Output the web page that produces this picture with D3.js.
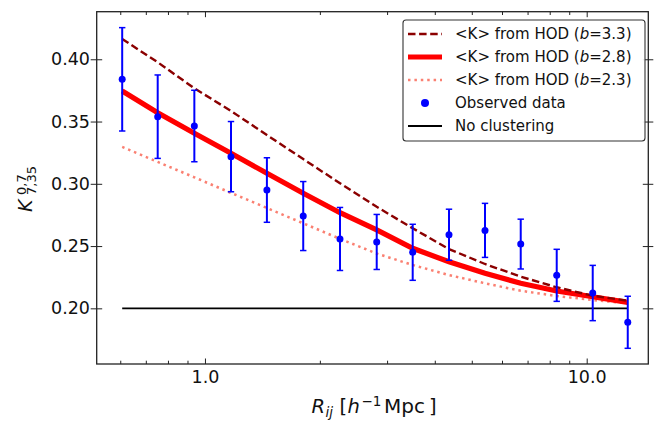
<!DOCTYPE html>
<html><head><meta charset="utf-8">
<script src="https://cdn.jsdelivr.net/npm/d3@7"></script>
<style>
html,body{margin:0;padding:0;background:#fff;}
svg{display:block;font-family:"DejaVu Sans",sans-serif;}
</style></head>
<body><svg id="chart" width="655" height="421"></svg>
<script>
// ---- data ----
const radii = [0.607,0.752,0.938,1.170,1.453,1.809,2.258,2.818,3.501,4.358,5.415,6.717,8.346,10.37,12.81];
const observed = [0.3839,0.3539,0.3464,0.3218,0.2950,0.2741,0.2557,0.2533,0.2450,0.2591,0.2626,0.2516,0.2265,0.2123,0.1888];
const observedErr = [0.0415,0.0335,0.0287,0.0282,0.0259,0.0277,0.0253,0.0221,0.0225,0.0205,0.0217,0.0200,0.0209,0.0222,0.0209];
const hodB33 = [0.4163,0.3976,0.3767,0.3585,0.3392,0.3199,0.3004,0.2815,0.2643,0.2476,0.2356,0.2254,0.2169,0.2101,0.2061];
const hodB28 = [0.3745,0.3570,0.3406,0.3245,0.3084,0.2924,0.2768,0.2630,0.2482,0.2374,0.2281,0.2201,0.2139,0.2093,0.2048];
const hodB23 = [0.3296,0.3176,0.3052,0.2927,0.2806,0.2683,0.2558,0.2440,0.2348,0.2267,0.2201,0.2141,0.2099,0.2067,0.2040];
const noClustering = 0.2;
const xMajorTicks = [1, 10];
const xMajorLabels = ["1.0", "10.0"];
const xMinorTicks = [0.6,0.7,0.8,0.9,2,3,4,5,6,7,8,9];
const yTicks = [0.20,0.25,0.30,0.35,0.40];
const yTickLabels = ["0.20","0.25","0.30","0.35","0.40"];
const bValues = ["3.3","2.8","2.3"];

// ---- layout ----
const L = 96.7, R = 648.3, T = 11.7, B = 364;
const svg = d3.select("#chart");
svg.append("rect").attr("width",655).attr("height",421).attr("fill","#fff");

const x = d3.scaleLog().domain([0.5205, 14.50]).range([L, R]);
const y = d3.scaleLinear().domain([0.1553, 0.4382]).range([B, T]);

const tickColor = "#222";
function styleAxis(g){ g.select(".domain").remove(); g.selectAll("line").attr("stroke",tickColor).attr("stroke-width",1); g.selectAll("text").attr("font-family","DejaVu Sans").attr("font-size",17.5).attr("fill","#111"); }

// bottom
svg.append("g").attr("transform",`translate(0,${B})`)
  .call(d3.axisBottom(x).tickValues(xMajorTicks).tickFormat((d,i)=>xMajorLabels[i]).tickSizeInner(-5.5).tickSizeOuter(0).tickPadding(6.6))
  .call(styleAxis);
svg.append("g").attr("transform",`translate(0,${B})`)
  .call(d3.axisBottom(x).tickValues(xMinorTicks).tickFormat("").tickSizeInner(-3.3).tickSizeOuter(0))
  .call(styleAxis);
// top
svg.append("g").attr("transform",`translate(0,${T})`)
  .call(d3.axisTop(x).tickValues(xMajorTicks).tickFormat("").tickSizeInner(-5.5).tickSizeOuter(0))
  .call(styleAxis);
svg.append("g").attr("transform",`translate(0,${T})`)
  .call(d3.axisTop(x).tickValues(xMinorTicks).tickFormat("").tickSizeInner(-3.3).tickSizeOuter(0))
  .call(styleAxis);
// left (in-out)
const gl = svg.append("g").attr("transform",`translate(${L},0)`)
  .call(d3.axisLeft(y).tickValues(yTicks).tickFormat((d,i)=>yTickLabels[i]).tickSizeInner(-5.5).tickSizeOuter(0).tickPadding(6.7))
  .call(styleAxis);
gl.selectAll(".tick line").attr("x1",-6);
// right (in-out)
const gr = svg.append("g").attr("transform",`translate(${R},0)`)
  .call(d3.axisRight(y).tickValues(yTicks).tickFormat("").tickSizeInner(-5.5).tickSizeOuter(0))
  .call(styleAxis);
gr.selectAll(".tick line").attr("x1",5);

// ---- data marks ----
const plot = svg.append("g");
const line = vals => d3.line().x((d,i)=>x(radii[i])).y(d=>y(d))(vals);

plot.append("line").attr("x1",x(radii[0])).attr("x2",x(radii[radii.length-1]))
  .attr("y1",y(noClustering)).attr("y2",y(noClustering)).attr("stroke","#000").attr("stroke-width",1.8);
plot.append("path").attr("d",line(hodB23)).attr("fill","none").attr("stroke","#fa8072")
  .attr("stroke-width",2.5).attr("stroke-dasharray","2.5,3.9");
plot.append("path").attr("d",line(hodB28)).attr("fill","none").attr("stroke","#ff0000")
  .attr("stroke-width",5.2);
plot.append("path").attr("d",line(hodB33)).attr("fill","none").attr("stroke","#8b0000")
  .attr("stroke-width",2.4).attr("stroke-dasharray","7.5,3.6");

const eb = plot.append("g").attr("stroke","#0000ff").attr("stroke-width",2);
radii.forEach((r,i)=>{
  const cx = x(r), y0 = y(observed[i]-observedErr[i]), y1 = y(observed[i]+observedErr[i]);
  eb.append("line").attr("x1",cx).attr("x2",cx).attr("y1",y0).attr("y2",y1);
  eb.append("line").attr("x1",cx-3.2).attr("x2",cx+3.2).attr("y1",y0).attr("y2",y0).attr("stroke-width",1.5);
  eb.append("line").attr("x1",cx-3.2).attr("x2",cx+3.2).attr("y1",y1).attr("y2",y1).attr("stroke-width",1.5);
});
plot.append("g").selectAll("circle").data(observed).join("circle")
  .attr("cx",(d,i)=>x(radii[i])).attr("cy",d=>y(d)).attr("r",3.5).attr("fill","#0000ff");

// frame
svg.append("rect").attr("x",L).attr("y",T).attr("width",R-L).attr("height",B-T)
  .attr("fill","none").attr("stroke","#222").attr("stroke-width",1.3);

// ---- legend ----
const lg = svg.append("g");
lg.append("rect").attr("x",403).attr("y",20).attr("width",242).attr("height",121).attr("rx",3)
  .attr("fill","#fff").attr("fill-opacity",0.9).attr("stroke","#333").attr("stroke-width",1.1);
const rows = [34,57,80,103,126];
const hx0 = 408, hx1 = 442, tx = 455;
lg.append("line").attr("x1",hx0).attr("x2",hx1).attr("y1",rows[0]).attr("y2",rows[0]).attr("stroke","#8b0000").attr("stroke-width",2.4).attr("stroke-dasharray","7.5,3.6");
lg.append("line").attr("x1",hx0).attr("x2",hx1).attr("y1",rows[1]).attr("y2",rows[1]).attr("stroke","#ff0000").attr("stroke-width",5);
lg.append("line").attr("x1",hx0).attr("x2",hx1).attr("y1",rows[2]).attr("y2",rows[2]).attr("stroke","#fa8072").attr("stroke-width",2.5).attr("stroke-dasharray","2.5,3.9");
lg.append("circle").attr("cx",(hx0+hx1)/2).attr("cy",rows[3]).attr("r",4).attr("fill","#0000ff");
lg.append("line").attr("x1",hx0).attr("x2",hx1).attr("y1",rows[4]).attr("y2",rows[4]).attr("stroke","#000").attr("stroke-width",2);
bValues.forEach((b,i)=>{
  const t = lg.append("text").attr("x",tx).attr("y",rows[i]+5.3).attr("font-size",15).attr("fill","#111");
  t.append("tspan").text("<K> from HOD (");
  t.append("tspan").attr("font-style","italic").text("b");
  t.append("tspan").text("="+b+")");
});
lg.append("text").attr("x",tx).attr("y",rows[3]+5.3).attr("font-size",15).attr("fill","#111").text("Observed data");
lg.append("text").attr("x",tx).attr("y",rows[4]+5.3).attr("font-size",15).attr("fill","#111").text("No clustering");

// ---- axis titles ----
const xl = svg.append("g").attr("fill","#111");
const xb = 413.3;
xl.append("text").attr("x",311.5).attr("y",xb).attr("font-size",19.5).attr("font-style","italic").text("R");
xl.append("text").attr("x",325.5).attr("y",xb+4).attr("font-size",13.5).attr("font-style","italic").text("ij");
xl.append("text").attr("x",339.5).attr("y",xb).attr("font-size",19.5).text("[");
xl.append("text").attr("x",347.5).attr("y",xb).attr("font-size",19.5).attr("font-style","italic").text("h");
xl.append("text").attr("x",361.5).attr("y",xb-7.5).attr("font-size",13.5).text("\u22121");
xl.append("text").attr("x",384).attr("y",xb).attr("font-size",20).text("Mpc");
xl.append("text").attr("x",429).attr("y",xb).attr("font-size",19.5).text("]");

const yl = svg.append("g").attr("transform","translate(31.7,187) rotate(-90)").attr("fill","#111");
yl.append("text").attr("x",-25).attr("y",0).attr("font-size",19).attr("font-style","italic").text("K");
yl.append("text").attr("x",-8).attr("y",-5.5).attr("font-size",13).text("0,7");
yl.append("text").attr("x",-8).attr("y",4.5).attr("font-size",13).text("7,35");
</script>
</body></html>
